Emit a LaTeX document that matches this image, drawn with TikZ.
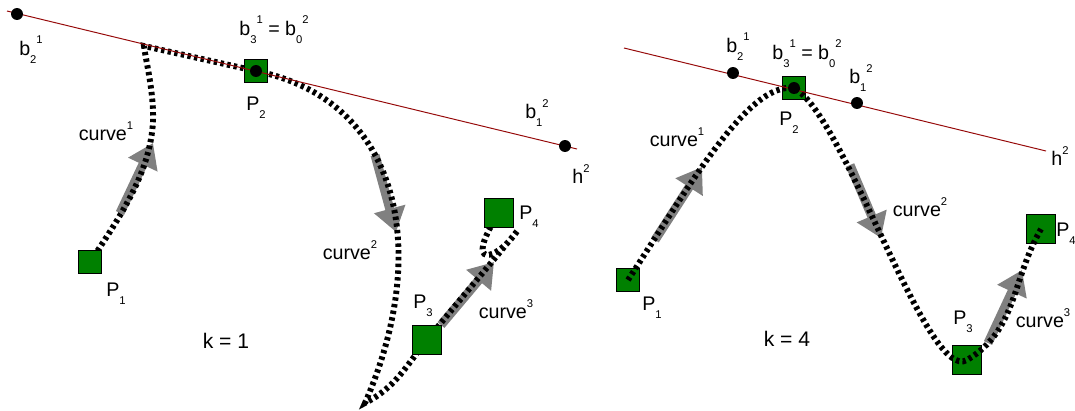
\documentclass[tikz,border=0pt]{standalone}
\usepackage{fontspec}
\setmainfont{Liberation Sans}
\usetikzlibrary{arrows.meta, backgrounds}
\definecolor{ptgreen}{RGB}{0,128,0}
\definecolor{hred}{RGB}{150,10,10}
\definecolor{arrgray}{RGB}{128,128,128}
\newcommand{\lsub}[1]{\raisebox{-0.8ex}{\fontsize{8pt}{9pt}\selectfont #1}}
\newcommand{\lsup}[1]{\raisebox{1.1ex}{\fontsize{8pt}{9pt}\selectfont #1}}

\begin{document}
\begin{tikzpicture}[x=0.025cm, y=-0.025cm,
  ctrl/.style={draw=black, fill=ptgreen, line width=0.6pt, minimum size=16pt, inner sep=0pt},
  ctrlbig/.style={ctrl, minimum size=20.5pt},
  bdot/.style={circle, fill=black, minimum size=8.5pt, inner sep=0pt},
  hline/.style={hred, line width=0.7pt},
  curve/.style={line width=4.2pt, dash pattern=on 2.4pt off 2.4pt},
  dirarrow/.style={arrgray, line width=6.4pt, -{Triangle[length=17pt, width=22pt]}},
  lbl/.style={inner sep=0pt, font=\fontsize{14pt}{16pt}\selectfont}]
  \useasboundingbox (0,0) rectangle (1075,410);

  % k = 1
  \node[ctrl] (P1l) at (90,262) {};
  \node[ctrl] (P2l) at (256,71) {};
  \node[ctrlbig] (P3l) at (427,340) {};
  \node[ctrlbig] (P4l) at (499,213) {};
  \coordinate (c1m) at (153,122);
  \coordinate (c1t) at (144,46);
  \coordinate (c2b) at (365,403);
  \coordinate (c3t) at (518,230);
  \coordinate (a1s) at (120,213); \coordinate (a1e) at (153,143);
  \coordinate (a2s) at (375,155); \coordinate (a2e) at (396,232);
  \coordinate (a3s) at (441,325); \coordinate (a3e) at (494,262);
  \begin{pgfonlayer}{background}
    \foreach \s/\e in {a1s/a1e, a2s/a2e, a3s/a3e}
      \draw[dirarrow] (\s) -- (\e);
    \draw[curve] (P1l.center) .. controls (125,210) and (150,170) .. (c1m)
      .. controls (154,92) and (146,62) .. (c1t) -- (P2l.center);
    \draw[curve] (P2l.center) .. controls (400,100) and (432,250) .. (c2b)
      to[out=27, in=231] (P3l.center) to[out=51, in=231] (c3t)
      .. controls (496,262) and (462,270) .. (P4l.center);
  \end{pgfonlayer}
  \coordinate (hAl) at (7,11);
  \coordinate (hBl) at (577,149);
  \draw[hline] (hAl) -- (hBl);
  \node[bdot] (b2l) at (17,14) {};
  \node[bdot] (b3l) at (P2l) {};
  \node[bdot] (hl) at (565,146) {};

  \node[lbl] (Lb21) at (31,50) {b\lsub{2}\lsup{1}};
  \node[lbl] (Lb30) at (274,30) {b\lsub{3}\lsup{1} = b\lsub{0}\lsup{2}};
  \node[lbl] (Lb12) at (537,113) {b\lsub{1}\lsup{2}};
  \node[lbl] (Lh) at (581,174) {h\lsup{2}};
  \node[lbl] (LP1) at (116,294) {P\lsub{1}};
  \node[lbl] (LP2) at (256,108) {P\lsub{2}};
  \node[lbl] (LP3) at (423,306) {P\lsub{3}};
  \node[lbl] (LP4) at (529,217) {P\lsub{4}};
  \node[lbl] (Lc1) at (106,131) {curve\lsup{1}};
  \node[lbl] (Lc2) at (350,250) {curve\lsup{2}};
  \node[lbl] (Lc3) at (506,309) {curve\lsup{3}};
  \node[lbl, font=\fontsize{15pt}{17pt}\selectfont] (Lk) at (226,341) {k = 1};

  % k = 4
  \node[ctrl] (P1r) at (628,280) {};
  \node[ctrl] (P2r) at (794,88) {};
  \node[ctrlbig] (P3r) at (967,360) {};
  \node[ctrlbig] (P4r) at (1041,229) {};
  \coordinate (r1s) at (655,240); \coordinate (r1e) at (702,167);
  \coordinate (r2s) at (850,165); \coordinate (r2e) at (881,238);
  \coordinate (r3s) at (988,343); \coordinate (r3e) at (1022,270);
  \foreach \s/\e in {r1s/r1e, r2s/r2e, r3s/r3e}
    \draw[dirarrow] (\s) -- (\e);
  \draw[curve] (P1r.center) .. controls (690,185) and (748,82) .. (P2r.center)
    .. controls (845,115) and (927,384) .. (P3r.center)
    to[out=31, in=240] (P4r.center);
  \coordinate (hAr) at (624,48);
  \coordinate (hBr) at (1046,151);
  \draw[hline] (hAr) -- (hBr);
  \node[bdot] (b2r) at (733,73) {};
  \node[bdot] (b3r) at (P2r) {};
  \node[bdot] (b1r) at (857,103) {};

  \node[lbl] (Rb21) at (738,47) {b\lsub{2}\lsup{1}};
  \node[lbl] (Rb30) at (807,54) {b\lsub{3}\lsup{1} = b\lsub{0}\lsup{2}};
  \node[lbl] (Rb12) at (861,78) {b\lsub{1}\lsup{2}};
  \node[lbl] (Rh) at (1060,156) {h\lsup{2}};
  \node[lbl] (RP1) at (652,308) {P\lsub{1}};
  \node[lbl] (RP2) at (789,123) {P\lsub{2}};
  \node[lbl] (RP3) at (963,322) {P\lsub{3}};
  \node[lbl] (RP4) at (1066,234) {P\lsub{4}};
  \node[lbl] (Rc1) at (677,137) {curve\lsup{1}};
  \node[lbl] (Rc2) at (920,207) {curve\lsup{2}};
  \node[lbl] (Rc3) at (1043,318) {curve\lsup{3}};
  \node[lbl, font=\fontsize{15pt}{17pt}\selectfont] (Rk) at (787,339) {k = 4};
\end{tikzpicture}
\end{document}
